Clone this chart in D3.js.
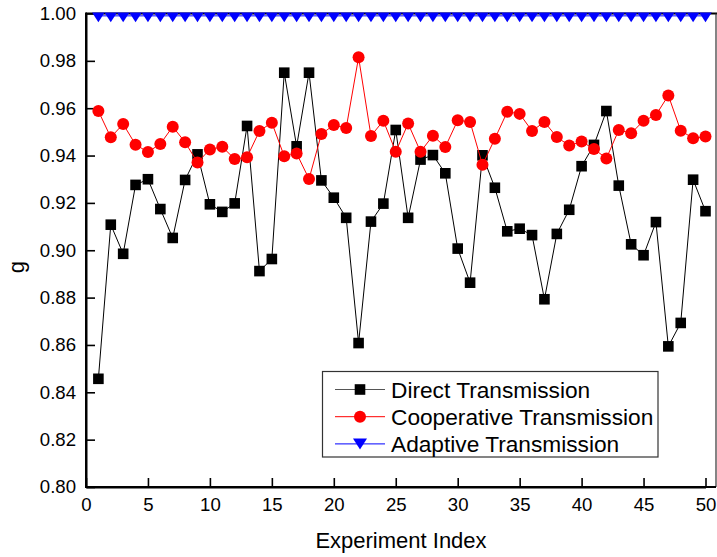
<!DOCTYPE html>
<html>
<head>
<meta charset="utf-8">
<script src="https://cdn.jsdelivr.net/npm/d3@7"></script>
<style>
  body { margin: 0; background: #fff; }
  text { font-family: Arial, "Liberation Sans", sans-serif; }
</style>
</head>
<body>
<div id="chart"></div>
<script>
const experiments = d3.range(1, 51);

const directValues = [
  0.8457, 0.9108, 0.8985, 0.9276, 0.9300, 0.9174, 0.9052, 0.9297, 0.9405, 0.9194,
  0.9162, 0.9198, 0.9525, 0.8912, 0.8963, 0.9750, 0.9439, 0.9750, 0.9295, 0.9222,
  0.9137, 0.8608, 0.9121, 0.9197, 0.9508, 0.9137, 0.9383, 0.9402, 0.9325, 0.9007,
  0.8863, 0.9401, 0.9264, 0.9080, 0.9091, 0.9064, 0.8793, 0.9069, 0.9171, 0.9355,
  0.9445, 0.9588, 0.9273, 0.9025, 0.8979, 0.9119, 0.8594, 0.8693, 0.9298, 0.9165
];

const cooperativeValues = [
  0.9588, 0.9477, 0.9533, 0.9446, 0.9415, 0.9449, 0.9522, 0.9456, 0.9371, 0.9426,
  0.9437, 0.9385, 0.9393, 0.9504, 0.9539, 0.9397, 0.9409, 0.9301, 0.9491, 0.9529,
  0.9516, 0.9815, 0.9483, 0.9547, 0.9416, 0.9535, 0.9416, 0.9484, 0.9436, 0.9549,
  0.9542, 0.9361, 0.9471, 0.9585, 0.9576, 0.9504, 0.9542, 0.9478, 0.9442, 0.9459,
  0.9428, 0.9388, 0.9508, 0.9494, 0.9547, 0.9571, 0.9654, 0.9505, 0.9473, 0.9480
];

const adaptiveValues = experiments.map(() => 0.999);

const seriesNames = ['Direct Transmission', 'Cooperative Transmission', 'Adaptive Transmission'];
const xTicks = d3.range(0, 51, 5);
const yTicks = d3.range(0, 11).map(i => 0.80 + i * 0.02);

const W = 717, H = 557;
const M = { left: 86, right: 716, top: 13.5, bottom: 487 };

const svg = d3.select('#chart').append('svg')
  .attr('width', W)
  .attr('height', H);

const x = d3.scaleLinear().domain([0, 50]).range([M.left, 705.5]);
const y = d3.scaleLinear().domain([0.80, 1.00]).range([M.bottom, M.top]);

svg.append('defs').append('clipPath').attr('id', 'plotclip')
  .append('rect')
  .attr('x', M.left).attr('y', 12.5)
  .attr('width', M.right - M.left).attr('height', M.bottom - 12.5);

// frame (top and right)
svg.append('line')
  .attr('x1', M.left).attr('x2', M.right + 1).attr('y1', M.top).attr('y2', M.top)
  .attr('stroke', '#000').attr('stroke-width', 2);
svg.append('line')
  .attr('x1', M.right).attr('x2', M.right).attr('y1', M.top).attr('y2', M.bottom)
  .attr('stroke', '#333').attr('stroke-width', 1.2);

// axes
const xAxis = svg.append('g')
  .attr('transform', 'translate(0,' + M.bottom + ')')
  .call(d3.axisBottom(x).tickValues(xTicks).tickSizeInner(-9).tickSizeOuter(0).tickPadding(11));
const yAxis = svg.append('g')
  .attr('transform', 'translate(' + M.left + ',0)')
  .call(d3.axisLeft(y).tickValues(yTicks).tickFormat(d3.format('.2f')).tickSizeInner(-9).tickSizeOuter(0).tickPadding(10));

[xAxis, yAxis].forEach(function (a) {
  a.select('.domain').attr('stroke', '#000').attr('stroke-width', 2);
  a.selectAll('.tick line').attr('stroke', '#000').attr('stroke-width', 1.6);
  a.selectAll('.tick text')
    .attr('fill', '#000')
    .style('font-size', '18.6px')
    .style('font-family', 'Arial, "Liberation Sans", sans-serif');
});
// extend the domain lines to meet at the corner
svg.append('line')
  .attr('x1', M.left - 1).attr('x2', M.right).attr('y1', M.bottom).attr('y2', M.bottom)
  .attr('stroke', '#000').attr('stroke-width', 2);
svg.append('line')
  .attr('x1', M.left).attr('x2', M.left).attr('y1', M.top - 1).attr('y2', M.bottom + 1)
  .attr('stroke', '#000').attr('stroke-width', 2);

// axis titles
svg.append('text')
  .attr('x', 401).attr('y', 548)
  .attr('text-anchor', 'middle')
  .style('font-size', '22px')
  .text('Experiment Index');
svg.append('text')
  .attr('transform', 'translate(24,267)rotate(-90)')
  .attr('text-anchor', 'middle')
  .style('font-size', '22px')
  .text('g');

const line = d3.line()
  .x(function (d, i) { return x(experiments[i]); })
  .y(function (d) { return y(d); });

const plot = svg.append('g').attr('clip-path', 'url(#plotclip)');

const triPath = 'M-7,-4.5L7,-4.5L0,6.5Z';

function drawSeries(values, color, marker) {
  plot.append('path')
    .datum(values)
    .attr('d', line)
    .attr('fill', 'none')
    .attr('stroke', color)
    .attr('stroke-width', 1);
  const g = plot.append('g');
  values.forEach(function (v, i) {
    const cx = x(experiments[i]), cy = y(v);
    if (marker === 'square') {
      g.append('rect').attr('x', cx - 5.3).attr('y', cy - 5.3)
        .attr('width', 10.6).attr('height', 10.6).attr('fill', color);
    } else if (marker === 'circle') {
      g.append('circle').attr('cx', cx).attr('cy', cy).attr('r', 6).attr('fill', color);
    } else {
      g.append('path').attr('d', triPath)
        .attr('transform', 'translate(' + cx + ',' + cy + ')')
        .attr('fill', color);
    }
  });
}

drawSeries(directValues, '#000000', 'square');
drawSeries(cooperativeValues, '#ff0000', 'circle');
drawSeries(adaptiveValues, '#0000ff', 'triangle');

// legend
const legend = svg.append('g');
legend.append('rect')
  .attr('x', 322.5).attr('y', 371.5)
  .attr('width', 335.5).attr('height', 85.5)
  .attr('fill', '#fff')
  .attr('stroke', '#333')
  .attr('stroke-width', 1.2);

const legendColors = ['#000000', '#ff0000', '#0000ff'];
const legendMarkers = ['square', 'circle', 'triangle'];
seriesNames.forEach(function (name, i) {
  const ly = 389.5 + i * 27.2;
  legend.append('line')
    .attr('x1', 335).attr('x2', 385).attr('y1', ly).attr('y2', ly)
    .attr('stroke', i === 0 ? '#555' : legendColors[i]).attr('stroke-width', 1);
  if (legendMarkers[i] === 'square') {
    legend.append('rect').attr('x', 354.7).attr('y', ly - 5.3)
      .attr('width', 10.6).attr('height', 10.6).attr('fill', legendColors[i]);
  } else if (legendMarkers[i] === 'circle') {
    legend.append('circle').attr('cx', 360).attr('cy', ly).attr('r', 6).attr('fill', legendColors[i]);
  } else {
    legend.append('path').attr('d', triPath)
      .attr('transform', 'translate(360,' + (ly - 1) + ')')
      .attr('fill', legendColors[i]);
  }
  legend.append('text')
    .attr('x', 391).attr('y', ly)
    .attr('dy', '0.36em')
    .style('font-size', '22.7px')
    .text(name);
});
</script>
</body>
</html>
